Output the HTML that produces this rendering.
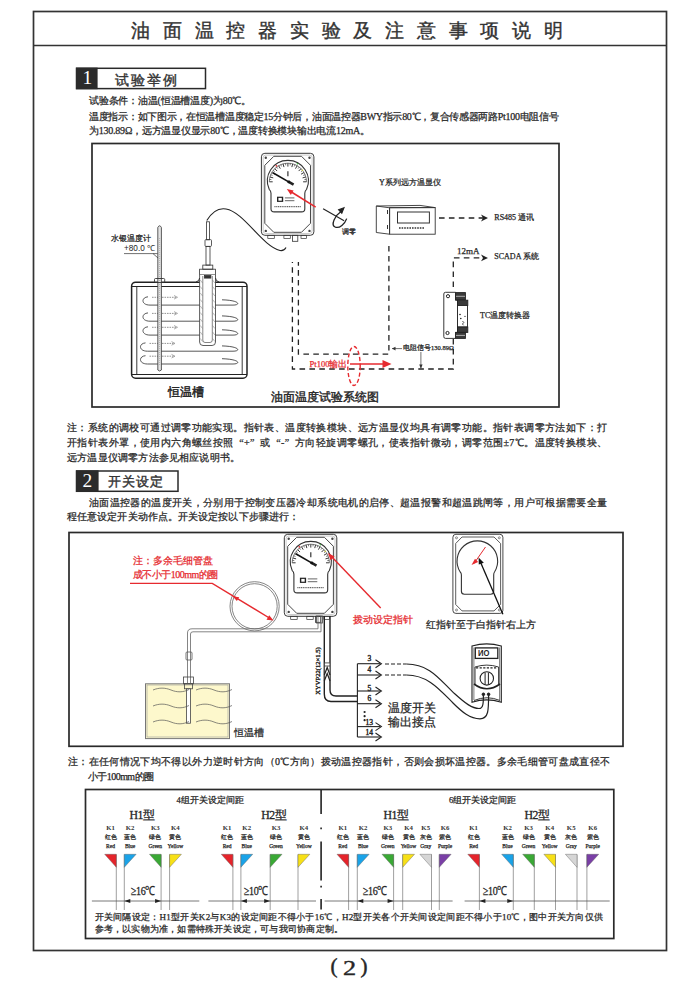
<!DOCTYPE html><html><head><meta charset="utf-8"><style>
html,body{margin:0;padding:0;background:#fff;}
body{width:700px;height:989px;position:relative;overflow:hidden;font-family:"Liberation Serif",serif;color:#262626;}
.t{position:absolute;white-space:nowrap;line-height:1;}
svg{position:absolute;left:0;top:0;}
</style></head><body>
<svg width="700" height="989" viewBox="0 0 700 989">
<rect x="33.5" y="11.5" width="633" height="939" fill="none" stroke="#333" stroke-width="1.7"/>
<line x1="33" y1="45.5" x2="667" y2="45.5" stroke="#333" stroke-width="1.7"/>
<rect x="76.5" y="68.3" width="129" height="20.3" fill="none" stroke="#2a2a2a" stroke-width="1.5"/>
<rect x="76" y="67.6" width="21.6" height="21.6" fill="#2b2b2b"/>
<rect x="76.5" y="471" width="101.5" height="20.3" fill="none" stroke="#2a2a2a" stroke-width="1.5"/>
<rect x="76" y="470.3" width="22.6" height="21.6" fill="#2b2b2b"/>
<rect x="92" y="143.5" width="467" height="263.5" fill="none" stroke="#2a2a2a" stroke-width="1.7"/>
<rect x="69" y="532.5" width="554" height="213.8" fill="none" stroke="#2a2a2a" stroke-width="1.7"/>
<rect x="85.5" y="789.5" width="528.3" height="149" fill="none" stroke="#2a2a2a" stroke-width="1.7"/>
<g transform="translate(261.4,153.3) scale(1.0)" fill="none" stroke="#333" stroke-width="0.8">
<rect x="0" y="0" width="52.5" height="82" rx="3.5" stroke="#3a3a3a" stroke-width="1"/>
<rect x="1.8" y="1.8" width="48.9" height="78.4" rx="2.5" stroke="#999" stroke-width="0.5"/>
<path d="M12.4,3 L40.1,3 L49.1,12 L49.1,70 L40.1,79 L12.4,79 L3.4,70 L3.4,12 Z" stroke-width="0.9"/>
<circle cx="4.4" cy="4.4" r="1.2" fill="#444" stroke="none"/>
<circle cx="48.1" cy="4.4" r="1.2" fill="#444" stroke="none"/>
<circle cx="4.4" cy="77.6" r="1.2" fill="#444" stroke="none"/>
<circle cx="48.1" cy="77.6" r="1.2" fill="#444" stroke="none"/>
<path d="M7.8,36 A20.5,20.5 0 1 1 45.2,36 Q43.4,37.5 43.4,40 L43.4,55.4 Q43.4,58.6 40.2,58.6 L12.8,58.6 Q9.6,58.6 9.6,55.4 L9.6,40 Q9.6,37.5 7.8,36 Z" stroke-width="1.1"/>
<line x1="11.30" y1="28.50" x2="7.90" y2="28.50" stroke="#222" stroke-width="0.9"/>
<line x1="10.04" y1="26.33" x2="8.06" y2="26.07" stroke="#222" stroke-width="0.6"/>
<line x1="11.82" y1="24.57" x2="8.53" y2="23.69" stroke="#222" stroke-width="0.9"/>
<line x1="11.16" y1="22.15" x2="9.32" y2="21.38" stroke="#222" stroke-width="0.6"/>
<line x1="13.34" y1="20.90" x2="10.39" y2="19.20" stroke="#222" stroke-width="0.9"/>
<line x1="13.33" y1="18.39" x2="11.74" y2="17.18" stroke="#222" stroke-width="0.6"/>
<line x1="15.75" y1="17.75" x2="13.35" y2="15.35" stroke="#222" stroke-width="0.9"/>
<line x1="16.39" y1="15.33" x2="15.18" y2="13.74" stroke="#222" stroke-width="0.6"/>
<line x1="18.90" y1="15.34" x2="17.20" y2="12.39" stroke="#222" stroke-width="0.9"/>
<line x1="20.15" y1="13.16" x2="19.38" y2="11.32" stroke="#222" stroke-width="0.6"/>
<line x1="22.57" y1="13.82" x2="21.69" y2="10.53" stroke="#222" stroke-width="0.9"/>
<line x1="24.33" y1="12.04" x2="24.07" y2="10.06" stroke="#222" stroke-width="0.6"/>
<line x1="26.50" y1="13.30" x2="26.50" y2="9.90" stroke="#222" stroke-width="0.9"/>
<line x1="28.67" y1="12.04" x2="28.93" y2="10.06" stroke="#222" stroke-width="0.6"/>
<line x1="30.43" y1="13.82" x2="31.31" y2="10.53" stroke="#222" stroke-width="0.9"/>
<line x1="32.85" y1="13.16" x2="33.62" y2="11.32" stroke="#222" stroke-width="0.6"/>
<line x1="34.10" y1="15.34" x2="35.80" y2="12.39" stroke="#222" stroke-width="0.9"/>
<line x1="36.61" y1="15.33" x2="37.82" y2="13.74" stroke="#222" stroke-width="0.6"/>
<line x1="37.25" y1="17.75" x2="39.65" y2="15.35" stroke="#222" stroke-width="0.9"/>
<line x1="39.67" y1="18.39" x2="41.26" y2="17.18" stroke="#222" stroke-width="0.6"/>
<line x1="39.66" y1="20.90" x2="42.61" y2="19.20" stroke="#222" stroke-width="0.9"/>
<line x1="41.84" y1="22.15" x2="43.68" y2="21.38" stroke="#222" stroke-width="0.6"/>
<line x1="41.18" y1="24.57" x2="44.47" y2="23.69" stroke="#222" stroke-width="0.9"/>
<line x1="42.96" y1="26.33" x2="44.94" y2="26.07" stroke="#222" stroke-width="0.6"/>
<line x1="41.70" y1="28.50" x2="45.10" y2="28.50" stroke="#222" stroke-width="0.9"/>
<path d="M7.899999999999999,28.5 A18.6,18.6 0 0 1 45.1,28.5" stroke="#444" stroke-width="0.7"/>
<circle cx="15" cy="12.5" r="0.9" fill="#d33" stroke="none"/><circle cx="36" cy="10.5" r="0.8" fill="#3a3" stroke="none"/><circle cx="41" cy="17" r="0.8" fill="#cc3" stroke="none"/>
<line x1="26.5" y1="18" x2="26.5" y2="23" stroke-width="1.2"/>
<line x1="11.5" y1="19.5" x2="29" y2="29.6" stroke="#111" stroke-width="1.6"/>
<line x1="27" y1="28.4" x2="32.2" y2="31.4" stroke="#222" stroke-width="2.6"/>
<circle cx="27.3" cy="28.6" r="1.4" fill="#111" stroke="none"/>
<rect x="15.6" y="43.4" width="6.2" height="5.2" fill="#222" stroke="none"/><rect x="17" y="44.6" width="3.4" height="2.8" fill="#fff" stroke="none"/>
<line x1="23.5" y1="44.6" x2="33" y2="44.6" stroke="#555" stroke-width="0.9"/><line x1="23.5" y1="47.4" x2="33" y2="47.4" stroke="#555" stroke-width="0.9"/>
<line x1="13" y1="53.4" x2="40" y2="53.4" stroke="#444" stroke-width="1.0" stroke-dasharray="1.2,0.6"/>
<rect x="6.4" y="82" width="6.5" height="3.2" stroke-width="0.7"/>
<rect x="22.5" y="82" width="6.4" height="3.2" stroke-width="0.7"/>
<rect x="31.1" y="82" width="5.3" height="6" stroke-width="0.8"/>
<rect x="39.6" y="82" width="5.6" height="3.2" stroke-width="0.7"/>
</g>
<line x1="315.7" y1="207.1" x2="291" y2="191.7" stroke="#e62a2f" stroke-width="1.6"/>
<path d="M286.8,189.1 L293.6,190.4 L290.8,194.9 Z" fill="#e62a2f"/>
<g fill="none" stroke="#222" stroke-width="1.1"><line x1="323.1" y1="208.7" x2="344.1" y2="220.7"/><path d="M341,211.5 C335,215.5 330.5,225 335,227 C339.5,229 345,223.5 346.7,218.6" stroke-width="1.3"/><path d="M344,207.8 L338.6,209.8 L341.8,213.2 Z" fill="#222"/></g>
<g fill="none" stroke="#222"><rect x="131.6" y="282.2" width="115.4" height="96" rx="4" stroke-width="1.5"/><line x1="136.8" y1="286.7" x2="136.8" y2="374.5" stroke-width="0.9"/><line x1="242.2" y1="286.7" x2="242.2" y2="374.5" stroke-width="0.9"/><line x1="131.6" y1="286.5" x2="247" y2="286.5" stroke-width="1.1"/><line x1="131.6" y1="374.5" x2="247" y2="374.5" stroke-width="1.1"/></g>
<path d="M148,296.8 C141,297.3 141,305.1 150,305.1 L233,305.1 C241,305.1 240,300.3 222,299.8" fill="none" stroke="#444" stroke-width="0.9"/>
<path d="M152,297.3 L176,297.3" fill="none" stroke="#777" stroke-width="0.8" stroke-dasharray="1.6,0.9"/>
<path d="M174,295.5 L177.5,297.3 L174,299.1" fill="none" stroke="#777" stroke-width="0.6"/>
<path d="M148,312.9 C141,313.4 141,321.2 150,321.2 L233,321.2 C241,321.2 240,316.4 222,315.9" fill="none" stroke="#444" stroke-width="0.9"/>
<path d="M152,313.4 L176,313.4" fill="none" stroke="#777" stroke-width="0.8" stroke-dasharray="1.6,0.9"/>
<path d="M174,311.59999999999997 L177.5,313.4 L174,315.2" fill="none" stroke="#777" stroke-width="0.6"/>
<path d="M148,326.8 C141,327.3 141,335.1 150,335.1 L233,335.1 C241,335.1 240,330.3 222,329.8" fill="none" stroke="#444" stroke-width="0.9"/>
<path d="M152,327.3 L176,327.3" fill="none" stroke="#777" stroke-width="0.8" stroke-dasharray="1.6,0.9"/>
<path d="M174,325.5 L177.5,327.3 L174,329.1" fill="none" stroke="#777" stroke-width="0.6"/>
<path d="M145.5,342.9 C138.5,343.4 138.5,351.2 147.5,351.2 L233,351.2 C241,351.2 240,346.4 222,345.9" fill="none" stroke="#444" stroke-width="0.9"/>
<path d="M149.5,343.4 L173.5,343.4" fill="none" stroke="#777" stroke-width="0.8" stroke-dasharray="1.6,0.9"/>
<path d="M171.5,341.59999999999997 L175.0,343.4 L171.5,345.2" fill="none" stroke="#777" stroke-width="0.6"/>
<path d="M145.5,355.7 C138.5,356.2 138.5,364.0 147.5,364.0 L233,364.0 C241,364.0 240,359.2 222,358.7" fill="none" stroke="#444" stroke-width="0.9"/>
<path d="M149.5,356.2 L173.5,356.2" fill="none" stroke="#777" stroke-width="0.8" stroke-dasharray="1.6,0.9"/>
<path d="M171.5,354.4 L175.0,356.2 L171.5,358.0" fill="none" stroke="#777" stroke-width="0.6"/>
<g fill="none" stroke="#333" stroke-width="0.8"><path d="M157.8,370 L157.8,227.5 Q159.6,224 161.4,227.5 L161.4,370 Q159.6,372 157.8,370 Z" fill="#e4e4e4"/><line x1="159.6" y1="238" x2="159.6" y2="365" stroke="#999" stroke-width="0.6" stroke-dasharray="1,1"/><rect x="154.5" y="278.5" width="10.2" height="4" rx="1" stroke-width="0.9"/></g>
<line x1="124" y1="253.6" x2="157.6" y2="253.6" stroke="#333" stroke-width="0.7"/>
<line x1="153" y1="253.6" x2="158" y2="258" stroke="#333" stroke-width="0.7"/>
<g fill="none" stroke="#333" stroke-width="0.8"><rect x="206.4" y="221.8" width="3.2" height="18"/><rect x="205" y="239.6" width="6.5" height="6.8" rx="1"/><rect x="206" y="246.4" width="4" height="18.7"/><rect x="202.8" y="265.1" width="10" height="4.1"/><rect x="199.6" y="269.2" width="15.9" height="5.5"/><path d="M199.6,274.7 L199.6,342 Q199.6,345.5 203,345.5 L212.1,345.5 Q215.5,345.5 215.5,342 L215.5,274.7" fill="#fff"/><path d="M202.8,276 L202.8,340 Q202.8,342.5 205,342.5 L210,342.5 Q212.3,342.5 212.3,340 L212.3,276" stroke-width="0.6"/><rect x="204.5" y="275.5" width="6.4" height="2.6" fill="#333"/><path d="M196,282 Q199.6,281 199.6,278 M219,282 Q215.5,281 215.5,278" stroke-width="1"/></g>
<line x1="200.3" y1="280.0" x2="202.5" y2="283.0" stroke="#777" stroke-width="0.5"/><line x1="212.6" y1="280.0" x2="214.8" y2="283.0" stroke="#777" stroke-width="0.5"/>
<line x1="200.3" y1="286.5" x2="202.5" y2="289.5" stroke="#777" stroke-width="0.5"/><line x1="212.6" y1="286.5" x2="214.8" y2="289.5" stroke="#777" stroke-width="0.5"/>
<line x1="200.3" y1="293.0" x2="202.5" y2="296.0" stroke="#777" stroke-width="0.5"/><line x1="212.6" y1="293.0" x2="214.8" y2="296.0" stroke="#777" stroke-width="0.5"/>
<line x1="200.3" y1="299.5" x2="202.5" y2="302.5" stroke="#777" stroke-width="0.5"/><line x1="212.6" y1="299.5" x2="214.8" y2="302.5" stroke="#777" stroke-width="0.5"/>
<line x1="200.3" y1="306.0" x2="202.5" y2="309.0" stroke="#777" stroke-width="0.5"/><line x1="212.6" y1="306.0" x2="214.8" y2="309.0" stroke="#777" stroke-width="0.5"/>
<line x1="200.3" y1="312.5" x2="202.5" y2="315.5" stroke="#777" stroke-width="0.5"/><line x1="212.6" y1="312.5" x2="214.8" y2="315.5" stroke="#777" stroke-width="0.5"/>
<line x1="200.3" y1="319.0" x2="202.5" y2="322.0" stroke="#777" stroke-width="0.5"/><line x1="212.6" y1="319.0" x2="214.8" y2="322.0" stroke="#777" stroke-width="0.5"/>
<line x1="200.3" y1="325.5" x2="202.5" y2="328.5" stroke="#777" stroke-width="0.5"/><line x1="212.6" y1="325.5" x2="214.8" y2="328.5" stroke="#777" stroke-width="0.5"/>
<line x1="200.3" y1="332.0" x2="202.5" y2="335.0" stroke="#777" stroke-width="0.5"/><line x1="212.6" y1="332.0" x2="214.8" y2="335.0" stroke="#777" stroke-width="0.5"/>
<line x1="200.3" y1="338.5" x2="202.5" y2="341.5" stroke="#777" stroke-width="0.5"/><line x1="212.6" y1="338.5" x2="214.8" y2="341.5" stroke="#777" stroke-width="0.5"/>
<path d="M206.8,220.5 C212,212 218,207.5 226,209 C244,212 262,246 280,250.5 C283,251 285,249.5 286,247.5" fill="none" stroke="#222" stroke-width="1.1"/>
<g fill="none" stroke="#333" stroke-width="0.9"><path d="M376.3,206 L389.6,207.8 L389.6,234.2 L376.3,232.5 Z"/><path d="M376.3,206 L420,205.4 L435.2,207.6 L389.6,207.8"/><rect x="389.6" y="207.6" width="45.6" height="26.6"/><rect x="397.5" y="212" width="31.9" height="11" stroke-width="1"/><line x1="399" y1="228" x2="424" y2="228" stroke-width="1.4" stroke-dasharray="1.6,1"/><line x1="387.5" y1="210" x2="387.5" y2="214" stroke-width="1"/><line x1="387.5" y1="225" x2="387.5" y2="229" stroke-width="1"/></g>
<line x1="439" y1="218" x2="483" y2="218" fill="none" stroke="#222" stroke-width="1.3" stroke-dasharray="5.6,4.3"/>
<path d="M481,214.6 L488,218 L481,221.4 L483,218 Z" fill="#222"/>
<path d="M453.3,287 L453.3,257.9 L483,257.9" fill="none" stroke="#222" stroke-width="1.3" stroke-dasharray="5.6,4.3"/>
<path d="M481,254.5 L488,257.9 L481,261.3 L483,257.9 Z" fill="#222"/>
<g fill="none" stroke="#222" stroke-width="0.9"><path d="M443.8,294 Q443.8,292.3 445.5,292.3 L455.6,292.3 L455.6,300.2 L457.5,300.2 L457.5,332.4 L455.6,332.4 L455.6,338.4 L445.5,338.4 Q443.8,338.4 443.8,336.7 Z"/><rect x="455.6" y="292.6" width="9.8" height="7.4" fill="#3a3a3a"/><line x1="456" y1="296.3" x2="465" y2="296.3" stroke="#fff" stroke-width="0.6"/><rect x="457.5" y="300.2" width="10.3" height="5.3" fill="#3a3a3a"/><rect x="457.5" y="305.5" width="10" height="21.5" fill="#fff"/><rect x="457.5" y="327" width="10.3" height="5.4" fill="#3a3a3a"/><rect x="455.6" y="332.4" width="9.8" height="6" fill="#3a3a3a"/><line x1="456" y1="335.4" x2="465" y2="335.4" stroke="#fff" stroke-width="0.6"/><circle cx="448" cy="296.2" r="1.6" stroke-width="1"/><circle cx="447.5" cy="333" r="1.6" stroke-width="1"/><circle cx="460" cy="314.5" r="0.8" fill="#222" stroke="none"/><circle cx="465" cy="316.4" r="0.6" fill="#222" stroke="none"/><circle cx="460.8" cy="318.5" r="0.8" fill="#222" stroke="none"/><path d="M462.5,321 L463.8,322.6 L462.4,324 L463.6,325.3" stroke-width="0.8"/></g>
<path d="M388.9,246 L388.9,354.2 L298.4,354.2 L298.4,262" fill="none" stroke="#222" stroke-width="1.3" stroke-dasharray="5.6,4.3"/>
<path d="M453.3,339 L453.3,369 L292.4,369 L292.4,262" fill="none" stroke="#222" stroke-width="1.3" stroke-dasharray="5.6,4.3"/>
<line x1="392" y1="348.6" x2="402" y2="348.6" stroke="#333" stroke-width="0.7"/><path d="M392,348.6 L395.5,346.8 L395.5,350.4 Z" fill="#333"/>
<line x1="420.9" y1="352" x2="420.9" y2="368" stroke="#333" stroke-width="0.7"/><path d="M420.9,368.5 L419.2,364.5 L422.6,364.5 Z" fill="#333"/>
<ellipse cx="354" cy="366" rx="6.2" ry="19.5" fill="none" stroke="#e62a2f" stroke-width="1.4" stroke-dasharray="4,2.4"/>
<line x1="350" y1="364" x2="384" y2="364" stroke="#e62a2f" stroke-width="1.7"/><path d="M391.5,364 L382.5,360 L382.5,368 Z" fill="#e62a2f"/>
<g transform="translate(284.3,534.3) scale(1.0)" fill="none" stroke="#333" stroke-width="0.8">
<rect x="0" y="0" width="52.5" height="82" rx="3.5" stroke="#3a3a3a" stroke-width="1"/>
<rect x="1.8" y="1.8" width="48.9" height="78.4" rx="2.5" stroke="#999" stroke-width="0.5"/>
<path d="M12.4,3 L40.1,3 L49.1,12 L49.1,70 L40.1,79 L12.4,79 L3.4,70 L3.4,12 Z" stroke-width="0.9"/>
<circle cx="4.4" cy="4.4" r="1.2" fill="#444" stroke="none"/>
<circle cx="48.1" cy="4.4" r="1.2" fill="#444" stroke="none"/>
<circle cx="4.4" cy="77.6" r="1.2" fill="#444" stroke="none"/>
<circle cx="48.1" cy="77.6" r="1.2" fill="#444" stroke="none"/>
<path d="M7.8,36 A20.5,20.5 0 1 1 45.2,36 Q43.4,37.5 43.4,40 L43.4,55.4 Q43.4,58.6 40.2,58.6 L12.8,58.6 Q9.6,58.6 9.6,55.4 L9.6,40 Q9.6,37.5 7.8,36 Z" stroke-width="1.1"/>
<line x1="11.30" y1="28.50" x2="7.90" y2="28.50" stroke="#222" stroke-width="0.9"/>
<line x1="10.04" y1="26.33" x2="8.06" y2="26.07" stroke="#222" stroke-width="0.6"/>
<line x1="11.82" y1="24.57" x2="8.53" y2="23.69" stroke="#222" stroke-width="0.9"/>
<line x1="11.16" y1="22.15" x2="9.32" y2="21.38" stroke="#222" stroke-width="0.6"/>
<line x1="13.34" y1="20.90" x2="10.39" y2="19.20" stroke="#222" stroke-width="0.9"/>
<line x1="13.33" y1="18.39" x2="11.74" y2="17.18" stroke="#222" stroke-width="0.6"/>
<line x1="15.75" y1="17.75" x2="13.35" y2="15.35" stroke="#222" stroke-width="0.9"/>
<line x1="16.39" y1="15.33" x2="15.18" y2="13.74" stroke="#222" stroke-width="0.6"/>
<line x1="18.90" y1="15.34" x2="17.20" y2="12.39" stroke="#222" stroke-width="0.9"/>
<line x1="20.15" y1="13.16" x2="19.38" y2="11.32" stroke="#222" stroke-width="0.6"/>
<line x1="22.57" y1="13.82" x2="21.69" y2="10.53" stroke="#222" stroke-width="0.9"/>
<line x1="24.33" y1="12.04" x2="24.07" y2="10.06" stroke="#222" stroke-width="0.6"/>
<line x1="26.50" y1="13.30" x2="26.50" y2="9.90" stroke="#222" stroke-width="0.9"/>
<line x1="28.67" y1="12.04" x2="28.93" y2="10.06" stroke="#222" stroke-width="0.6"/>
<line x1="30.43" y1="13.82" x2="31.31" y2="10.53" stroke="#222" stroke-width="0.9"/>
<line x1="32.85" y1="13.16" x2="33.62" y2="11.32" stroke="#222" stroke-width="0.6"/>
<line x1="34.10" y1="15.34" x2="35.80" y2="12.39" stroke="#222" stroke-width="0.9"/>
<line x1="36.61" y1="15.33" x2="37.82" y2="13.74" stroke="#222" stroke-width="0.6"/>
<line x1="37.25" y1="17.75" x2="39.65" y2="15.35" stroke="#222" stroke-width="0.9"/>
<line x1="39.67" y1="18.39" x2="41.26" y2="17.18" stroke="#222" stroke-width="0.6"/>
<line x1="39.66" y1="20.90" x2="42.61" y2="19.20" stroke="#222" stroke-width="0.9"/>
<line x1="41.84" y1="22.15" x2="43.68" y2="21.38" stroke="#222" stroke-width="0.6"/>
<line x1="41.18" y1="24.57" x2="44.47" y2="23.69" stroke="#222" stroke-width="0.9"/>
<line x1="42.96" y1="26.33" x2="44.94" y2="26.07" stroke="#222" stroke-width="0.6"/>
<line x1="41.70" y1="28.50" x2="45.10" y2="28.50" stroke="#222" stroke-width="0.9"/>
<path d="M7.899999999999999,28.5 A18.6,18.6 0 0 1 45.1,28.5" stroke="#444" stroke-width="0.7"/>
<circle cx="15" cy="12.5" r="0.9" fill="#d33" stroke="none"/><circle cx="36" cy="10.5" r="0.8" fill="#3a3" stroke="none"/><circle cx="41" cy="17" r="0.8" fill="#cc3" stroke="none"/>
<line x1="26.5" y1="18" x2="26.5" y2="23" stroke-width="1.2"/>
<line x1="11.5" y1="19.5" x2="29" y2="29.6" stroke="#111" stroke-width="1.6"/>
<line x1="27" y1="28.4" x2="32.2" y2="31.4" stroke="#222" stroke-width="2.6"/>
<circle cx="27.3" cy="28.6" r="1.4" fill="#111" stroke="none"/>
<rect x="15.6" y="43.4" width="6.2" height="5.2" fill="#222" stroke="none"/><rect x="17" y="44.6" width="3.4" height="2.8" fill="#fff" stroke="none"/>
<line x1="23.5" y1="44.6" x2="33" y2="44.6" stroke="#555" stroke-width="0.9"/><line x1="23.5" y1="47.4" x2="33" y2="47.4" stroke="#555" stroke-width="0.9"/>
<line x1="13" y1="53.4" x2="40" y2="53.4" stroke="#444" stroke-width="1.0" stroke-dasharray="1.2,0.6"/>
<rect x="6.4" y="82" width="6.5" height="3.2" stroke-width="0.7"/>
<rect x="22.5" y="82" width="6.4" height="3.2" stroke-width="0.7"/>
<rect x="31.1" y="82" width="5.3" height="6" stroke-width="0.8"/>
<rect x="39.6" y="82" width="5.6" height="3.2" stroke-width="0.7"/>
</g>
<g fill="none" stroke="#666" stroke-width="0.8"><circle cx="254.6" cy="606.3" r="24.6"/><circle cx="254.6" cy="606.3" r="22.6"/><path d="M318,616 L318,628.8 L192,628.8 Q187.5,628.8 187.5,633 L187.5,683"/><path d="M321,616 L321,631.8 L193,631.8 Q190.5,631.8 190.5,634 L190.5,683"/></g>
<rect x="316.4" y="616" width="6" height="7" fill="none" stroke="#444" stroke-width="0.8"/>
<rect x="186" y="652" width="6" height="8" rx="1" fill="none" stroke="#555" stroke-width="0.8"/>
<rect x="145.5" y="683.8" width="84" height="54.8" fill="#fdf8cc" stroke="#777" stroke-width="1"/>
<rect x="147" y="685" width="81" height="52" fill="none" stroke="#999" stroke-width="0.6"/>
<g fill="none" stroke="#444" stroke-width="0.8"><rect x="183.5" y="677" width="10" height="6.8"/><rect x="184.5" y="683.8" width="8" height="5"/><rect x="186.5" y="688.8" width="4" height="34.4" fill="#fff"/></g>
<path d="M153,690 C159,687.5 165,687.5 171,690 S183,692.5 189,689.5" fill="none" stroke="#555" stroke-width="0.7"/>
<path d="M196,690 C202,687.5 208,687.5 214,690 S226,692.5 232,689.5" fill="none" stroke="#555" stroke-width="0.7"/>
<path d="M153,706 C159,703.5 165,703.5 171,706 S183,708.5 189,705.5" fill="none" stroke="#555" stroke-width="0.7"/>
<path d="M196,706 C202,703.5 208,703.5 214,706 S226,708.5 232,705.5" fill="none" stroke="#555" stroke-width="0.7"/>
<path d="M153,722 C159,719.5 165,719.5 171,722 S183,724.5 189,721.5" fill="none" stroke="#555" stroke-width="0.7"/>
<path d="M196,722 C202,719.5 208,719.5 214,722 S226,724.5 232,721.5" fill="none" stroke="#555" stroke-width="0.7"/>
<path d="M130,583.4 L212.3,583.4 L271,619" fill="none" stroke="#e62a2f" stroke-width="1.4"/>
<path d="M273.5,620.5 L266.5,619.8 L269.2,615.2 Z" fill="#e62a2f"/>
<path d="M232.5,596.3 L239.2,597.2 L236.9,601 Z" fill="#e62a2f"/>
<line x1="380.7" y1="607.9" x2="330.5" y2="555.6" stroke="#e62a2f" stroke-width="1.4"/>
<path d="M327.9,552.9 L334.6,556.4 L330.6,560.2 Z" fill="#e62a2f"/>
<g fill="none" stroke="#222" stroke-width="1.1"><path d="M324.3,616 L324.3,694 Q324.3,701.5 331,701.5 L357.4,701.5" stroke-width="1.4"/><path d="M330,616 L330,690 Q330,696 336,696 L357.4,696" stroke-width="1.4"/></g>
<rect x="324.8" y="662.5" width="4.6" height="17" fill="#fff"/><path d="M324.3,675 L327.2,667.5 L330,675 M324.3,681 L327.2,673.5 L330,681" fill="none" stroke="#222" stroke-width="1.2"/>
<line x1="324.3" y1="662.9" x2="330" y2="662.9" stroke="#333" stroke-width="0.8"/><line x1="324.3" y1="666" x2="330" y2="666" stroke="#333" stroke-width="0.8"/>
<g fill="none" stroke="#222" stroke-width="1.1"><line x1="357.4" y1="663.7" x2="357.4" y2="737"/></g>
<line x1="357.4" y1="663.7" x2="380" y2="663.7" stroke="#222" stroke-width="1.1"/><path d="M375.5,659.7 L381.4,663.7 L375.5,667.7" fill="none" stroke="#222" stroke-width="1.1"/>
<line x1="357.4" y1="675" x2="380" y2="675" stroke="#222" stroke-width="1.1"/><path d="M375.5,671 L381.4,675 L375.5,679" fill="none" stroke="#222" stroke-width="1.1"/>
<line x1="357.4" y1="691" x2="380" y2="691" stroke="#222" stroke-width="1.1"/><path d="M375.5,687 L381.4,691 L375.5,695" fill="none" stroke="#222" stroke-width="1.1"/>
<line x1="357.4" y1="703.7" x2="380" y2="703.7" stroke="#222" stroke-width="1.1"/><path d="M375.5,699.7 L381.4,703.7 L375.5,707.7" fill="none" stroke="#222" stroke-width="1.1"/>
<line x1="357.4" y1="726.6" x2="380" y2="726.6" stroke="#222" stroke-width="1.1"/><path d="M375.5,722.6 L381.4,726.6 L375.5,730.6" fill="none" stroke="#222" stroke-width="1.1"/>
<line x1="357.4" y1="737" x2="380" y2="737" stroke="#222" stroke-width="1.1"/><path d="M375.5,733 L381.4,737 L375.5,741" fill="none" stroke="#222" stroke-width="1.1"/>
<circle cx="364.6" cy="712" r="1.1" fill="#222"/>
<circle cx="364.6" cy="716.2" r="1.1" fill="#222"/>
<circle cx="364.6" cy="720.2" r="1.1" fill="#222"/>
<g fill="none" stroke="#222" stroke-width="1.2"><path d="M385,664 L406.5,664" stroke-dasharray="4,2"/><path d="M385,675 L406.5,675" stroke-dasharray="4,2"/><path d="M406.5,664 C430,664 440,680 455,694 C465,703 472,708.5 479,708.5 C483.5,708.5 483.4,702 483.4,695"/><path d="M406.5,675 C428,675 440,690 453,703 C462,712 470,718.8 480,718.8 C488.6,718.8 488.6,710 488.6,695"/></g>
<g fill="none" stroke="#222" stroke-width="1"><path d="M472,702.2 L472,646 Q486.6,641.8 501.3,646 L501.3,702.2 Q486.6,697.5 472,702.2 Z" stroke-width="1.1"/><path d="M473.9,700 L473.9,647.5 M499.6,647.5 L499.6,700" stroke-width="0.6"/><rect x="475.3" y="647.9" width="22.5" height="10.5" stroke-width="1.3"/><path d="M475,685 L475,667 Q486.8,663.2 498.6,667 L498.6,685" stroke-width="0.9"/><line x1="476" y1="667.8" x2="497.6" y2="667.8" stroke-width="1.3" stroke-dasharray="2.2,1.4"/><circle cx="486.8" cy="678.4" r="6.7" stroke-width="1.1"/><line x1="485.1" y1="672.6" x2="485.1" y2="684.4" stroke-width="1"/><line x1="488.4" y1="672.6" x2="488.4" y2="684.4" stroke-width="1"/><path d="M474,684 Q486.8,693.5 500,684" stroke-width="1.6"/><path d="M474,700.5 Q487,695 500,700.5" stroke-width="0.9"/><circle cx="483.4" cy="694.3" r="1.3" fill="#222"/><circle cx="488.6" cy="694.3" r="1.3" fill="#222"/></g>
<g fill="none" stroke="#333" stroke-width="0.9"><rect x="452.9" y="534.3" width="50" height="79.1" rx="3"/><path d="M462,537 L494,537 L500.6,543.5 L500.6,604.5 L494,610.9 L462,610.9 L455.7,604.5 L455.7,543.5 Z" stroke-width="0.8"/><path d="M460.2,572 A20.3,20.3 0 1 1 494.5,572 Q493.7,573 493.7,575 L493.7,591.3 Q493.7,594.3 490.7,594.3 L464.4,594.3 Q461.4,594.3 461.4,591.3 L461.4,575 Q461.4,573 460.2,572 Z" stroke-width="1.1"/></g>
<circle cx="456.5" cy="537.8" r="1" fill="none" stroke="#444" stroke-width="0.6"/>
<circle cx="499.3" cy="537.8" r="1" fill="none" stroke="#444" stroke-width="0.6"/>
<circle cx="456.5" cy="610" r="1" fill="none" stroke="#444" stroke-width="0.6"/>
<circle cx="499.3" cy="610" r="1" fill="none" stroke="#444" stroke-width="0.6"/>
<line x1="474" y1="563.5" x2="485.5" y2="547" stroke="#e62a2f" stroke-width="1"/><path d="M471.5,565 L475,558.8 L478.2,562 Z" fill="#e62a2f"/>
<line x1="502.9" y1="614.3" x2="480" y2="561" stroke="#111" stroke-width="1.3"/><path d="M478.6,557.6 L483.8,562.8 L478.8,564.6 Z" fill="#111"/>
<g stroke="#222" stroke-width="1.6"><line x1="321.1" y1="790" x2="321.1" y2="814"/><line x1="321.1" y1="827.6" x2="321.1" y2="829.2"/><line x1="321.1" y1="841.6" x2="321.1" y2="880.5"/><line x1="321.1" y1="885.8" x2="321.1" y2="887.4"/><line x1="321.1" y1="899" x2="321.1" y2="909.6"/></g>
<line x1="116.3" y1="854.5" x2="116.3" y2="910" stroke="#888" stroke-width="0.8"/>
<polygon points="104.7,854.3 116.3,854.3 116.3,867.3" fill="#e5242b" stroke="#555" stroke-width="0.4"/>
<line x1="124.3" y1="854.5" x2="124.3" y2="910" stroke="#888" stroke-width="0.8"/>
<polygon points="124.3,854.3 136.1,854.3 124.3,867.3" fill="#1aa3e8" stroke="#555" stroke-width="0.4"/>
<line x1="161.1" y1="854.5" x2="161.1" y2="910" stroke="#888" stroke-width="0.8"/>
<polygon points="149.5,854.3 161.1,854.3 161.1,867.3" fill="#3aa935" stroke="#555" stroke-width="0.4"/>
<line x1="169.6" y1="854.5" x2="169.6" y2="910" stroke="#888" stroke-width="0.8"/>
<polygon points="169.6,854.3 181.4,854.3 169.6,867.3" fill="#f7e017" stroke="#555" stroke-width="0.4"/>
<line x1="91.9" y1="901" x2="199.3" y2="901" stroke="#555" stroke-width="0.8"/>
<path d="M124.3,901 L130.3,899 L130.3,903 Z M161.1,901 L155.1,899 L155.1,903 Z" fill="#222"/>
<line x1="232.9" y1="854.5" x2="232.9" y2="910" stroke="#888" stroke-width="0.8"/>
<polygon points="221.3,854.3 232.9,854.3 232.9,867.3" fill="#e5242b" stroke="#555" stroke-width="0.4"/>
<line x1="240.9" y1="854.5" x2="240.9" y2="910" stroke="#888" stroke-width="0.8"/>
<polygon points="240.9,854.3 252.70000000000002,854.3 240.9,867.3" fill="#1aa3e8" stroke="#555" stroke-width="0.4"/>
<line x1="270.2" y1="854.5" x2="270.2" y2="910" stroke="#888" stroke-width="0.8"/>
<polygon points="270.2,854.3 282.0,854.3 270.2,867.3" fill="#3aa935" stroke="#555" stroke-width="0.4"/>
<line x1="298" y1="854.5" x2="298" y2="910" stroke="#888" stroke-width="0.8"/>
<polygon points="298,854.3 309.8,854.3 298,867.3" fill="#f7e017" stroke="#555" stroke-width="0.4"/>
<line x1="208.4" y1="901" x2="316" y2="901" stroke="#555" stroke-width="0.8"/>
<path d="M240.9,901 L246.9,899 L246.9,903 Z M270.2,901 L264.2,899 L264.2,903 Z" fill="#222"/>
<line x1="348.6" y1="854.5" x2="348.6" y2="910" stroke="#888" stroke-width="0.8"/>
<polygon points="337.0,854.3 348.6,854.3 348.6,867.3" fill="#e5242b" stroke="#555" stroke-width="0.4"/>
<line x1="357.3" y1="854.5" x2="357.3" y2="910" stroke="#888" stroke-width="0.8"/>
<polygon points="357.3,854.3 369.1,854.3 357.3,867.3" fill="#1aa3e8" stroke="#555" stroke-width="0.4"/>
<line x1="393.6" y1="854.5" x2="393.6" y2="910" stroke="#888" stroke-width="0.8"/>
<polygon points="382.0,854.3 393.6,854.3 393.6,867.3" fill="#3aa935" stroke="#555" stroke-width="0.4"/>
<line x1="402.7" y1="854.5" x2="402.7" y2="910" stroke="#888" stroke-width="0.8"/>
<polygon points="402.7,854.3 414.5,854.3 402.7,867.3" fill="#f7e017" stroke="#555" stroke-width="0.4"/>
<line x1="431.5" y1="854.5" x2="431.5" y2="910" stroke="#888" stroke-width="0.8"/>
<polygon points="419.9,854.3 431.5,854.3 431.5,867.3" fill="#d6d6d6" stroke="#555" stroke-width="0.4"/>
<line x1="439.3" y1="854.5" x2="439.3" y2="910" stroke="#888" stroke-width="0.8"/>
<polygon points="439.3,854.3 451.1,854.3 439.3,867.3" fill="#7a3fa6" stroke="#555" stroke-width="0.4"/>
<line x1="324.6" y1="901" x2="452.6" y2="901" stroke="#555" stroke-width="0.8"/>
<path d="M357.3,901 L363.3,899 L363.3,903 Z M393.6,901 L387.6,899 L387.6,903 Z" fill="#222"/>
<line x1="479.4" y1="854.5" x2="479.4" y2="910" stroke="#888" stroke-width="0.8"/>
<polygon points="467.79999999999995,854.3 479.4,854.3 479.4,867.3" fill="#e5242b" stroke="#555" stroke-width="0.4"/>
<line x1="513.3" y1="854.5" x2="513.3" y2="910" stroke="#888" stroke-width="0.8"/>
<polygon points="501.69999999999993,854.3 513.3,854.3 513.3,867.3" fill="#1aa3e8" stroke="#555" stroke-width="0.4"/>
<line x1="534.3" y1="854.5" x2="534.3" y2="910" stroke="#888" stroke-width="0.8"/>
<polygon points="522.6999999999999,854.3 534.3,854.3 534.3,867.3" fill="#3aa935" stroke="#555" stroke-width="0.4"/>
<line x1="555.5" y1="854.5" x2="555.5" y2="910" stroke="#888" stroke-width="0.8"/>
<polygon points="543.9,854.3 555.5,854.3 555.5,867.3" fill="#f7e017" stroke="#555" stroke-width="0.4"/>
<line x1="577" y1="854.5" x2="577" y2="910" stroke="#888" stroke-width="0.8"/>
<polygon points="565.4,854.3 577,854.3 577,867.3" fill="#d6d6d6" stroke="#555" stroke-width="0.4"/>
<line x1="586.9" y1="854.5" x2="586.9" y2="910" stroke="#888" stroke-width="0.8"/>
<polygon points="586.9,854.3 598.6999999999999,854.3 586.9,867.3" fill="#7a3fa6" stroke="#555" stroke-width="0.4"/>
<line x1="464.6" y1="901" x2="609.7" y2="901" stroke="#555" stroke-width="0.8"/>
<path d="M479.4,901 L485.4,899 L485.4,903 Z M513.3,901 L507.29999999999995,899 L507.29999999999995,903 Z" fill="#222"/>
</svg>
<div class="t" style="left:131px;top:20.5px;font-size:19px;letter-spacing:12.75px;-webkit-text-stroke:0.4px #333;color:#333;">油面温控器实验及注意事项说明</div>
<div class="t" style="left:82.5px;top:68px;font-size:19.5px;color:#fff;">1</div>
<div class="t" style="left:115px;top:73.5px;font-size:14px;letter-spacing:1.9px;-webkit-text-stroke:0.4px #333;color:#333;">试验举例</div>
<div class="t" style="left:89px;top:95.5px;font-size:10px;-webkit-text-stroke:0.25px;letter-spacing:-0.2px;">试验条件：油温(恒温槽温度)为80℃。</div>
<div class="t" style="left:89px;top:111.5px;font-size:10px;-webkit-text-stroke:0.25px;letter-spacing:-0.3px;">温度指示：如下图示，在恒温槽温度稳定15分钟后，油面温控器BWY指示80℃，复合传感器两路Pt100电阻信号</div>
<div class="t" style="left:89px;top:125.5px;font-size:10px;-webkit-text-stroke:0.25px;letter-spacing:-0.23px;">为130.89Ω，远方温显仪显示80℃，温度转换模块输出电流12mA。</div>
<div class="t" style="left:67px;top:422.8px;font-size:10px;-webkit-text-stroke:0.25px;letter-spacing:0.39px;">注：系统的调校可通过调零功能实现。指针表、温度转换模块、远方温显仪均具有调零功能。指针表调零方法如下：打</div>
<div class="t" style="left:67px;top:437.8px;font-size:10px;-webkit-text-stroke:0.25px;letter-spacing:0.42px;">开指针表外罩，使用内六角螺丝按照 “+” 或 “-” 方向轻旋调零螺孔，使表指针微动，调零范围±7℃。温度转换模块、</div>
<div class="t" style="left:67px;top:452.8px;font-size:10px;-webkit-text-stroke:0.25px;letter-spacing:0.19px;">远方温显仪调零方法参见相应说明书。</div>
<div class="t" style="left:82.5px;top:470.5px;font-size:19.5px;color:#fff;">2</div>
<div class="t" style="left:107.5px;top:475.2px;font-size:13.4px;letter-spacing:1.2px;-webkit-text-stroke:0.4px #333;color:#333;">开关设定</div>
<div class="t" style="left:89px;top:497.5px;font-size:10px;-webkit-text-stroke:0.25px;letter-spacing:0.37px;">油面温控器的温度开关，分别用于控制变压器冷却系统电机的启停、超温报警和超温跳闸等，用户可根据需要全量</div>
<div class="t" style="left:67px;top:511.5px;font-size:10px;-webkit-text-stroke:0.25px;letter-spacing:0.09px;">程任意设定开关动作点。开关设定按以下步骤进行：</div>
<div class="t" style="left:68px;top:756.5px;font-size:10px;-webkit-text-stroke:0.25px;letter-spacing:0.35px;">注：在任何情况下均不得以外力逆时针方向（0℃方向）拨动温控器指针，否则会损坏温控器。多余毛细管可盘成直径不</div>
<div class="t" style="left:88px;top:771.5px;font-size:10px;-webkit-text-stroke:0.25px;letter-spacing:-0.57px;">小于100mm的圈</div>
<div class="t" style="left:94.5px;top:913.3px;font-size:9px;-webkit-text-stroke:0.25px;letter-spacing:0.28px;">开关间隔设定：H1型开关K2与K3的设定间距不得小于16℃，H2型开关各个开关间设定间距不得小于10℃，图中开关方向仅供</div>
<div class="t" style="left:94.5px;top:924.8px;font-size:9px;-webkit-text-stroke:0.25px;letter-spacing:0.21px;">参考，以实物为准，如需特殊开关设定，可与我司协商定制。</div>
<div class="t" style="left:330.5px;top:956px;font-size:21px;-webkit-text-stroke:0.5px;">(</div>
<div class="t" style="left:342.5px;top:958px;font-size:21px;transform:scaleX(1.25);transform-origin:0 0;-webkit-text-stroke:0.4px;">2</div>
<div class="t" style="left:360.5px;top:956px;font-size:21px;-webkit-text-stroke:0.5px;">)</div>
<div class="t" style="left:342.4px;top:228.5px;font-size:6.5px;-webkit-text-stroke:0.25px;">调零</div>
<div class="t" style="left:111px;top:235px;font-size:8.4px;-webkit-text-stroke:0.25px;">水银温度计</div>
<div class="t" style="left:124px;top:245px;font-size:8.2px;font-family:'Liberation Sans',sans-serif;">+80.0 ℃</div>
<div class="t" style="left:379px;top:178.5px;font-size:8px;-webkit-text-stroke:0.25px;">Y系列远方温显仪</div>
<div class="t" style="left:494.3px;top:213.5px;font-size:8px;-webkit-text-stroke:0.25px;">RS485 通讯</div>
<div class="t" style="left:457px;top:247px;font-size:9px;-webkit-text-stroke:0.25px;">12mA</div>
<div class="t" style="left:494.3px;top:253px;font-size:8px;-webkit-text-stroke:0.25px;">SCADA 系统</div>
<div class="t" style="left:480px;top:312px;font-size:8px;-webkit-text-stroke:0.25px;">TC温度转换器</div>
<div class="t" style="left:403px;top:345.2px;font-size:6.5px;-webkit-text-stroke:0.25px;">电阻信号130.89Ω</div>
<div class="t" style="left:309.6px;top:359.8px;font-size:8.5px;color:#e62a2f;-webkit-text-stroke:0.25px;">Pt100输出</div>
<div class="t" style="left:168px;top:386.5px;font-size:11.6px;-webkit-text-stroke:0.45px;">恒温槽</div>
<div class="t" style="left:271px;top:390.5px;font-size:12px;-webkit-text-stroke:0.4px;">油面温度试验系统图</div>
<div class="t" style="left:234px;top:728px;font-size:10px;-webkit-text-stroke:0.25px;">恒温槽</div>
<div class="t" style="left:132.7px;top:555.8px;font-size:10px;color:#e62a2f;-webkit-text-stroke:0.25px;">注：多余毛细管盘</div>
<div class="t" style="left:132.7px;top:569.5px;font-size:10px;color:#e62a2f;-webkit-text-stroke:0.25px;letter-spacing:-0.5px;">成不小于100mm的圈</div>
<div class="t" style="left:352.9px;top:614.5px;font-size:10px;color:#e62a2f;-webkit-text-stroke:0.25px;">拨动设定指针</div>
<div class="t" style="left:317.8px;top:670.6px;font-size:6.6px;transform:translate(-50%,-50%) rotate(-90deg);-webkit-text-stroke:0.4px;">XYVP22(12×1.5)</div>
<div class="t" style="left:367.5px;top:655px;font-size:7.5px;-webkit-text-stroke:0.4px;">3</div>
<div class="t" style="left:367.5px;top:665.9px;font-size:7.5px;-webkit-text-stroke:0.4px;">4</div>
<div class="t" style="left:367.5px;top:684.9px;font-size:7.5px;-webkit-text-stroke:0.4px;">5</div>
<div class="t" style="left:367.5px;top:694.7px;font-size:7.5px;-webkit-text-stroke:0.4px;">6</div>
<div class="t" style="left:365.5px;top:719px;font-size:7.5px;-webkit-text-stroke:0.4px;">13</div>
<div class="t" style="left:365.5px;top:729.4px;font-size:7.5px;-webkit-text-stroke:0.4px;">14</div>
<div class="t" style="left:388.3px;top:702px;font-size:12.3px;-webkit-text-stroke:0.25px;">温度开关</div>
<div class="t" style="left:388.3px;top:716.3px;font-size:12.3px;-webkit-text-stroke:0.25px;">输出接点</div>
<div class="t" style="left:478.3px;top:648.6px;font-size:8.5px;font-weight:bold;font-family:'Liberation Sans',sans-serif;transform:scaleX(0.9);transform-origin:0 0;">ИO</div>
<div class="t" style="left:426.3px;top:619.5px;font-size:10px;-webkit-text-stroke:0.25px;">红指针至于白指针右上方</div>
<div class="t" style="left:110.5px;top:824.8px;font-size:6.8px;transform:translateX(-50%);font-weight:bold;color:#333;">K1</div>
<div class="t" style="left:110.5px;top:835.3px;font-size:5.5px;transform:translateX(-50%);-webkit-text-stroke:0.25px;">红色</div>
<div class="t" style="left:110.5px;top:843.8px;font-size:5.5px;transform:translateX(-50%);-webkit-text-stroke:0.25px;">Red</div>
<div class="t" style="left:130.1px;top:824.8px;font-size:6.8px;transform:translateX(-50%);font-weight:bold;color:#333;">K2</div>
<div class="t" style="left:130.1px;top:835.3px;font-size:5.5px;transform:translateX(-50%);-webkit-text-stroke:0.25px;">蓝色</div>
<div class="t" style="left:130.1px;top:843.8px;font-size:5.5px;transform:translateX(-50%);-webkit-text-stroke:0.25px;">Blue</div>
<div class="t" style="left:155.29999999999998px;top:824.8px;font-size:6.8px;transform:translateX(-50%);font-weight:bold;color:#333;">K3</div>
<div class="t" style="left:155.29999999999998px;top:835.3px;font-size:5.5px;transform:translateX(-50%);-webkit-text-stroke:0.25px;">绿色</div>
<div class="t" style="left:155.29999999999998px;top:843.8px;font-size:5.5px;transform:translateX(-50%);-webkit-text-stroke:0.25px;">Green</div>
<div class="t" style="left:175.4px;top:824.8px;font-size:6.8px;transform:translateX(-50%);font-weight:bold;color:#333;">K4</div>
<div class="t" style="left:175.4px;top:835.3px;font-size:5.5px;transform:translateX(-50%);-webkit-text-stroke:0.25px;">黄色</div>
<div class="t" style="left:175.4px;top:843.8px;font-size:5.5px;transform:translateX(-50%);-webkit-text-stroke:0.25px;">Yellow</div>
<div class="t" style="left:130.7px;top:884.5px;font-size:12.5px;font-family:'Liberation Serif',serif;letter-spacing:-0.5px;-webkit-text-stroke:0.3px;transform:scaleX(0.8);transform-origin:0 0;">≥16℃</div>
<div class="t" style="left:227.1px;top:824.8px;font-size:6.8px;transform:translateX(-50%);font-weight:bold;color:#333;">K1</div>
<div class="t" style="left:227.1px;top:835.3px;font-size:5.5px;transform:translateX(-50%);-webkit-text-stroke:0.25px;">红色</div>
<div class="t" style="left:227.1px;top:843.8px;font-size:5.5px;transform:translateX(-50%);-webkit-text-stroke:0.25px;">Red</div>
<div class="t" style="left:246.70000000000002px;top:824.8px;font-size:6.8px;transform:translateX(-50%);font-weight:bold;color:#333;">K2</div>
<div class="t" style="left:246.70000000000002px;top:835.3px;font-size:5.5px;transform:translateX(-50%);-webkit-text-stroke:0.25px;">蓝色</div>
<div class="t" style="left:246.70000000000002px;top:843.8px;font-size:5.5px;transform:translateX(-50%);-webkit-text-stroke:0.25px;">Blue</div>
<div class="t" style="left:276.0px;top:824.8px;font-size:6.8px;transform:translateX(-50%);font-weight:bold;color:#333;">K3</div>
<div class="t" style="left:276.0px;top:835.3px;font-size:5.5px;transform:translateX(-50%);-webkit-text-stroke:0.25px;">绿色</div>
<div class="t" style="left:276.0px;top:843.8px;font-size:5.5px;transform:translateX(-50%);-webkit-text-stroke:0.25px;">Green</div>
<div class="t" style="left:303.8px;top:824.8px;font-size:6.8px;transform:translateX(-50%);font-weight:bold;color:#333;">K4</div>
<div class="t" style="left:303.8px;top:835.3px;font-size:5.5px;transform:translateX(-50%);-webkit-text-stroke:0.25px;">黄色</div>
<div class="t" style="left:303.8px;top:843.8px;font-size:5.5px;transform:translateX(-50%);-webkit-text-stroke:0.25px;">Yellow</div>
<div class="t" style="left:243.6px;top:884.5px;font-size:12.5px;font-family:'Liberation Serif',serif;letter-spacing:-0.5px;-webkit-text-stroke:0.3px;transform:scaleX(0.8);transform-origin:0 0;">≥10℃</div>
<div class="t" style="left:342.8px;top:824.8px;font-size:6.8px;transform:translateX(-50%);font-weight:bold;color:#333;">K1</div>
<div class="t" style="left:342.8px;top:835.3px;font-size:5.5px;transform:translateX(-50%);-webkit-text-stroke:0.25px;">红色</div>
<div class="t" style="left:342.8px;top:843.8px;font-size:5.5px;transform:translateX(-50%);-webkit-text-stroke:0.25px;">Red</div>
<div class="t" style="left:363.1px;top:824.8px;font-size:6.8px;transform:translateX(-50%);font-weight:bold;color:#333;">K2</div>
<div class="t" style="left:363.1px;top:835.3px;font-size:5.5px;transform:translateX(-50%);-webkit-text-stroke:0.25px;">蓝色</div>
<div class="t" style="left:363.1px;top:843.8px;font-size:5.5px;transform:translateX(-50%);-webkit-text-stroke:0.25px;">Blue</div>
<div class="t" style="left:387.8px;top:824.8px;font-size:6.8px;transform:translateX(-50%);font-weight:bold;color:#333;">K3</div>
<div class="t" style="left:387.8px;top:835.3px;font-size:5.5px;transform:translateX(-50%);-webkit-text-stroke:0.25px;">绿色</div>
<div class="t" style="left:387.8px;top:843.8px;font-size:5.5px;transform:translateX(-50%);-webkit-text-stroke:0.25px;">Green</div>
<div class="t" style="left:408.5px;top:824.8px;font-size:6.8px;transform:translateX(-50%);font-weight:bold;color:#333;">K4</div>
<div class="t" style="left:408.5px;top:835.3px;font-size:5.5px;transform:translateX(-50%);-webkit-text-stroke:0.25px;">黄色</div>
<div class="t" style="left:408.5px;top:843.8px;font-size:5.5px;transform:translateX(-50%);-webkit-text-stroke:0.25px;">Yellow</div>
<div class="t" style="left:425.7px;top:824.8px;font-size:6.8px;transform:translateX(-50%);font-weight:bold;color:#333;">K5</div>
<div class="t" style="left:425.7px;top:835.3px;font-size:5.5px;transform:translateX(-50%);-webkit-text-stroke:0.25px;">灰色</div>
<div class="t" style="left:425.7px;top:843.8px;font-size:5.5px;transform:translateX(-50%);-webkit-text-stroke:0.25px;">Gray</div>
<div class="t" style="left:445.1px;top:824.8px;font-size:6.8px;transform:translateX(-50%);font-weight:bold;color:#333;">K6</div>
<div class="t" style="left:445.1px;top:835.3px;font-size:5.5px;transform:translateX(-50%);-webkit-text-stroke:0.25px;">紫色</div>
<div class="t" style="left:445.1px;top:843.8px;font-size:5.5px;transform:translateX(-50%);-webkit-text-stroke:0.25px;">Purple</div>
<div class="t" style="left:363.4px;top:884.5px;font-size:12.5px;font-family:'Liberation Serif',serif;letter-spacing:-0.5px;-webkit-text-stroke:0.3px;transform:scaleX(0.8);transform-origin:0 0;">≥16℃</div>
<div class="t" style="left:473.59999999999997px;top:824.8px;font-size:6.8px;transform:translateX(-50%);font-weight:bold;color:#333;">K1</div>
<div class="t" style="left:473.59999999999997px;top:835.3px;font-size:5.5px;transform:translateX(-50%);-webkit-text-stroke:0.25px;">红色</div>
<div class="t" style="left:473.59999999999997px;top:843.8px;font-size:5.5px;transform:translateX(-50%);-webkit-text-stroke:0.25px;">Red</div>
<div class="t" style="left:507.49999999999994px;top:824.8px;font-size:6.8px;transform:translateX(-50%);font-weight:bold;color:#333;">K2</div>
<div class="t" style="left:507.49999999999994px;top:835.3px;font-size:5.5px;transform:translateX(-50%);-webkit-text-stroke:0.25px;">蓝色</div>
<div class="t" style="left:507.49999999999994px;top:843.8px;font-size:5.5px;transform:translateX(-50%);-webkit-text-stroke:0.25px;">Blue</div>
<div class="t" style="left:528.5px;top:824.8px;font-size:6.8px;transform:translateX(-50%);font-weight:bold;color:#333;">K3</div>
<div class="t" style="left:528.5px;top:835.3px;font-size:5.5px;transform:translateX(-50%);-webkit-text-stroke:0.25px;">绿色</div>
<div class="t" style="left:528.5px;top:843.8px;font-size:5.5px;transform:translateX(-50%);-webkit-text-stroke:0.25px;">Green</div>
<div class="t" style="left:549.7px;top:824.8px;font-size:6.8px;transform:translateX(-50%);font-weight:bold;color:#333;">K4</div>
<div class="t" style="left:549.7px;top:835.3px;font-size:5.5px;transform:translateX(-50%);-webkit-text-stroke:0.25px;">黄色</div>
<div class="t" style="left:549.7px;top:843.8px;font-size:5.5px;transform:translateX(-50%);-webkit-text-stroke:0.25px;">Yellow</div>
<div class="t" style="left:571.2px;top:824.8px;font-size:6.8px;transform:translateX(-50%);font-weight:bold;color:#333;">K5</div>
<div class="t" style="left:571.2px;top:835.3px;font-size:5.5px;transform:translateX(-50%);-webkit-text-stroke:0.25px;">灰色</div>
<div class="t" style="left:571.2px;top:843.8px;font-size:5.5px;transform:translateX(-50%);-webkit-text-stroke:0.25px;">Gray</div>
<div class="t" style="left:592.6999999999999px;top:824.8px;font-size:6.8px;transform:translateX(-50%);font-weight:bold;color:#333;">K6</div>
<div class="t" style="left:592.6999999999999px;top:835.3px;font-size:5.5px;transform:translateX(-50%);-webkit-text-stroke:0.25px;">紫色</div>
<div class="t" style="left:592.6999999999999px;top:843.8px;font-size:5.5px;transform:translateX(-50%);-webkit-text-stroke:0.25px;">Purple</div>
<div class="t" style="left:482.9px;top:884.5px;font-size:12.5px;font-family:'Liberation Serif',serif;letter-spacing:-0.5px;-webkit-text-stroke:0.3px;transform:scaleX(0.8);transform-origin:0 0;">≥10℃</div>
<div class="t" style="left:176.4px;top:795.5px;font-size:8.5px;-webkit-text-stroke:0.25px;">4组开关设定间距</div>
<div class="t" style="left:449.1px;top:795.5px;font-size:8.5px;-webkit-text-stroke:0.25px;">6组开关设定间距</div>
<div class="t" style="left:129.6px;top:810px;font-size:11.8px;letter-spacing:-0.6px;-webkit-text-stroke:0.3px;">H1型</div>
<div class="t" style="left:261.3px;top:810px;font-size:11.8px;letter-spacing:-0.6px;-webkit-text-stroke:0.3px;">H2型</div>
<div class="t" style="left:383.5px;top:810px;font-size:11.8px;letter-spacing:-0.6px;-webkit-text-stroke:0.3px;">H1型</div>
<div class="t" style="left:524.5px;top:810px;font-size:11.8px;letter-spacing:-0.6px;-webkit-text-stroke:0.3px;">H2型</div>
</body></html>
